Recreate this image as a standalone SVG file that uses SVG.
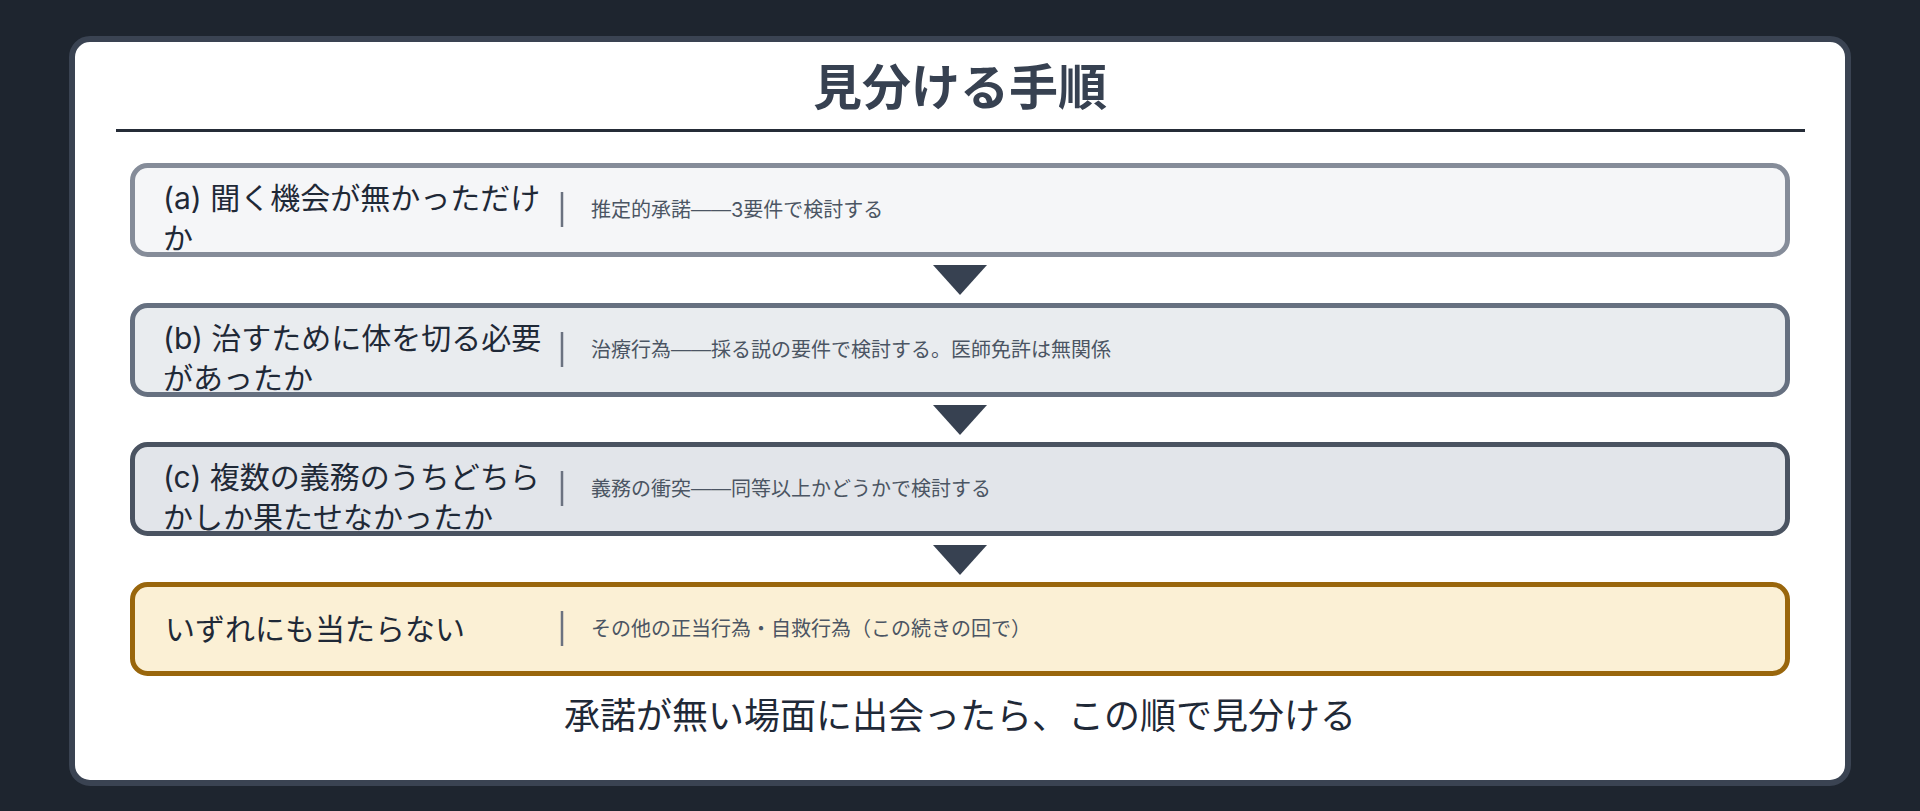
<svg xmlns="http://www.w3.org/2000/svg" width="1920" height="811" viewBox="0 0 1920 811">
  <style>
    .lbl { font-family: "Inter", "Noto Sans CJK JP", sans-serif; font-size: 30px; fill: #1f2937; }
    .sub { font-family: "Inter", "Noto Sans CJK JP", sans-serif; font-size: 20px; fill: #4b5563; }
    .dash { font-family: "Liberation Sans", sans-serif; }
    .title { font-family: "Noto Sans CJK JP", "Noto Sans", sans-serif; font-size: 49px; font-weight: 700; fill: #374151; }
    .cap { font-family: "Noto Sans CJK JP", "Noto Sans", sans-serif; font-size: 36px; fill: #1f2937; }
    .div { stroke: #6b7280; stroke-width: 2.5; }
    .arrow { fill: #374151; }
    .border { fill: none; stroke-width: 5; }
  </style>
  <rect x="0" y="0" width="1920" height="811" fill="#1e252f"/>
  <g id="card">
    <rect x="72" y="39" width="1776" height="744" rx="18" fill="#ffffff" stroke="#3a4352" stroke-width="6"/>
    <text class="title" x="960" y="105" text-anchor="middle">見分ける手順</text>
    <line x1="116" y1="130.5" x2="1805" y2="130.5" stroke="#252c37" stroke-width="3"/>
  </g>
  <g id="node-a">
    <rect x="132.5" y="165.5" width="1655" height="89" rx="15" fill="#f5f6f8"/>
    <text class="lbl" x="163" y="209">(a) 聞く機会が無かっただけ</text>
    <text class="lbl" x="163" y="249">か</text>
    <line class="div" x1="562" y1="192" x2="562" y2="227"/>
    <text class="sub" x="591" y="217">推定的承諾<tspan class="dash" dy="-1.5">——</tspan><tspan dy="1.5">3要件で検討する</tspan></text>
    <rect class="border" x="132.5" y="165.5" width="1655" height="89" rx="15" stroke="#858c99"/>
  </g>
  <g id="node-b">
    <rect x="132.5" y="305.5" width="1655" height="89" rx="15" fill="#e9ecef"/>
    <text class="lbl" x="163" y="349">(b) 治すために体を切る必要</text>
    <text class="lbl" x="163" y="389">があったか</text>
    <line class="div" x1="562" y1="332" x2="562" y2="367"/>
    <text class="sub" x="591" y="357">治療行為<tspan class="dash" dy="-1.5">——</tspan><tspan dy="1.5">採る説の要件で検討する。医師免許は無関係</tspan></text>
    <rect class="border" x="132.5" y="305.5" width="1655" height="89" rx="15" stroke="#667080"/>
  </g>
  <g id="node-c">
    <rect x="132.5" y="444.5" width="1655" height="89" rx="15" fill="#e2e5ea"/>
    <text class="lbl" x="163" y="488">(c) 複数の義務のうちどちら</text>
    <text class="lbl" x="163" y="528">かしか果たせなかったか</text>
    <line class="div" x1="562" y1="471" x2="562" y2="506"/>
    <text class="sub" x="591" y="496">義務の衝突<tspan class="dash" dy="-1.5">——</tspan><tspan dy="1.5">同等以上かどうかで検討する</tspan></text>
    <rect class="border" x="132.5" y="444.5" width="1655" height="89" rx="15" stroke="#4a5361"/>
  </g>
  <g id="node-d">
    <rect x="132.5" y="584.5" width="1655" height="89" rx="15" fill="#fbf0d5"/>
    <text class="lbl" x="165" y="640">いずれにも当たらない</text>
    <line class="div" x1="562" y1="611" x2="562" y2="646"/>
    <text class="sub" x="591" y="636">その他の正当行為・自救行為（この続きの回で）</text>
    <rect class="border" x="132.5" y="584.5" width="1655" height="89" rx="15" stroke="#99660c"/>
  </g>
  <g id="connectors">
    <polygon class="arrow" points="933,265 987,265 960,295"/>
    <polygon class="arrow" points="933,405 987,405 960,435"/>
    <polygon class="arrow" points="933,545 987,545 960,575"/>
  </g>
  <text class="cap" x="960" y="729" text-anchor="middle">承諾が無い場面に出会ったら、この順で見分ける</text>
</svg>
